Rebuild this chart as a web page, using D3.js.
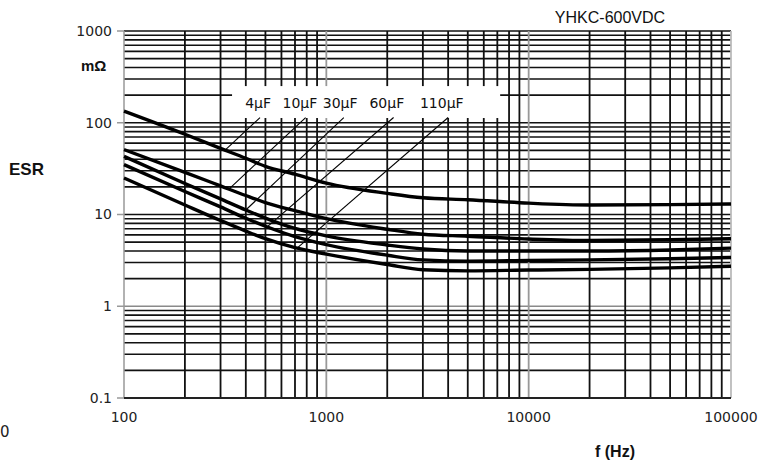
<!DOCTYPE html>
<html><head><meta charset="utf-8">
<script src="https://cdn.jsdelivr.net/npm/d3@7"></script>
<style>body{margin:0;background:#fff}svg{display:block}</style>
</head><body>
<svg id="c" width="774" height="464"></svg>
<script>
// ---- data ----
const freqs = [100,200,300,400,500,700,1000,2000,3000,5000,10000,20000,50000,100000];
const esr4   = [134,75,52.5,41,33.5,27.5,22,17,15.2,14.5,13.3,12.7,12.8,13.0];
const esr10  = [51,28.8,20.5,16.1,13.5,11.0,9.0,6.9,6.1,5.8,5.4,5.2,5.3,5.45];
const esr30  = [43,21.8,14.8,11.2,9.15,7.05,5.85,4.65,4.2,4.0,4.0,4.0,4.1,4.3];
const esr60  = [35,17.8,12.1,9.1,7.45,5.75,4.7,3.6,3.2,3.1,3.15,3.2,3.3,3.4];
const esr110 = [25,12.7,8.6,6.6,5.45,4.35,3.7,2.85,2.5,2.43,2.48,2.52,2.62,2.73];
const seriesNames = ["4µF","10µF","30µF","60µF","110µF"];
const seriesValues = [esr4, esr10, esr30, esr60, esr110];
// label anchor frequencies (centre of each label) and where each leader meets its curve
const labelFreq  = [460, 740, 1170, 1990, 3720];
const leaderFrom = [470, 790, 1220, 2150, 4000];
const leaderTo   = [316, 330, 400, 510, 717];
const labelValue = 145, leaderTopValue = 114;
const legendBox = {f0: 342, f1: 7230, v0: 112.6, v1: 251};
const xTickVals = [100, 1000, 10000, 100000];
const xTickText = ["100", "1000", "10000", "100000"];
const yTickVals = [0.1, 1, 10, 100, 1000];
const yTickText = ["0.1", "1", "10", "100", "1000"];

// ---- scales ----
const x = d3.scaleLog().domain([100, 100000]).range([124, 731]);
const y = d3.scaleLog().domain([0.1, 1000]).range([398, 31]);
const svg = d3.select("#c");

// minor values
const xGrid = [], yGrid = [];
for (let d = 100; d < 100000; d *= 10) for (let m = 1; m <= 9; m++) xGrid.push(d * m);
xGrid.push(100000);
for (let d = 0.1; d < 999; d *= 10) for (let m = 1; m <= 9; m++) yGrid.push(+(d * m).toPrecision(3));
yGrid.push(1000);

const isDecade = v => Math.abs(Math.log10(v) - Math.round(Math.log10(v))) < 1e-6;

// horizontal grid
svg.append("g").selectAll("line").data(yGrid).join("line")
  .attr("x1", x(100)).attr("x2", x(100000))
  .attr("y1", d => y(d)).attr("y2", d => y(d))
  .attr("stroke", d => (d === 1 ? "#8a8a8a" : "#111"))
  .attr("stroke-width", 1.6);

// vertical grid
svg.append("g").selectAll("line").data(xGrid).join("line")
  .attr("x1", d => x(d)).attr("x2", d => x(d))
  .attr("y1", y(1000)).attr("y2", y(0.1))
  .attr("stroke", d => (isDecade(d) ? (d === 100000 ? "#bbb" : "#999") : "#111"))
  .attr("stroke-width", d => (d === 100 ? 1.5 : 1.8));

// bottom axis line
svg.append("line").attr("x1", x(100)).attr("x2", x(100000))
  .attr("y1", y(0.1)).attr("y2", y(0.1)).attr("stroke", "#222").attr("stroke-width", 1.8);

// y ticks
svg.append("g").selectAll("line").data(yTickVals).join("line")
  .attr("x1", x(100) - 7).attr("x2", x(100))
  .attr("y1", d => y(d)).attr("y2", d => y(d))
  .attr("stroke", "#999").attr("stroke-width", 1.5);

svg.append("g").selectAll("text").data(yTickVals).join("text")
  .attr("x", x(100) - 12).attr("y", d => y(d)).attr("dy", "0.35em")
  .attr("text-anchor", "end")
  .attr("font-family", "DejaVu Sans").attr("font-size", 14).attr("fill", "#222")
  .text((d, i) => yTickText[i]);

svg.append("g").selectAll("text").data(xTickVals).join("text")
  .attr("x", d => x(d)).attr("y", 422)
  .attr("text-anchor", "middle")
  .attr("font-family", "DejaVu Sans").attr("font-size", 14).attr("fill", "#222")
  .text((d, i) => xTickText[i]);

// legend white box
svg.append("rect")
  .attr("x", x(legendBox.f0)).attr("y", y(legendBox.v1))
  .attr("width", x(legendBox.f1) - x(legendBox.f0))
  .attr("height", y(legendBox.v0) - y(legendBox.v1))
  .attr("fill", "#fff");

// curves
const line = d3.line().x(d => x(d[0])).y(d => y(d[1])).curve(d3.curveMonotoneX);
svg.append("g").selectAll("path").data(seriesValues).join("path")
  .attr("d", vals => line(freqs.map((f, i) => [f, vals[i]])))
  .attr("fill", "none").attr("stroke", "#000").attr("stroke-width", 3.4)
  .attr("stroke-linejoin", "round");

// interpolate value on a series (log-log)
function valueAt(vals, f) {
  const lf = Math.log10(f);
  for (let i = 0; i < freqs.length - 1; i++) {
    const a = Math.log10(freqs[i]), b = Math.log10(freqs[i + 1]);
    if (lf >= a && lf <= b) {
      const t = (lf - a) / (b - a);
      return Math.pow(10, Math.log10(vals[i]) + t * (Math.log10(vals[i + 1]) - Math.log10(vals[i])));
    }
  }
  return vals[vals.length - 1];
}

// leader lines
svg.append("g").selectAll("line").data(seriesValues).join("line")
  .attr("x1", (v, i) => x(leaderFrom[i])).attr("y1", y(leaderTopValue))
  .attr("x2", (v, i) => x(leaderTo[i])).attr("y2", (v, i) => y(valueAt(v, leaderTo[i])))
  .attr("stroke", "#000").attr("stroke-width", 1.1);

// labels
svg.append("g").selectAll("text").data(seriesNames).join("text")
  .attr("x", (d, i) => x(labelFreq[i])).attr("y", y(labelValue))
  .attr("text-anchor", "middle")
  .attr("font-family", "DejaVu Sans").attr("font-size", 14).attr("fill", "#111")
  .text(d => d);

// titles
svg.append("text").attr("x", 610).attr("y", 23).attr("text-anchor", "middle")
  .attr("font-family", "Liberation Sans").attr("font-size", 16).attr("fill", "#111")
  .text("YHKC-600VDC");
svg.append("text").attr("x", 81).attr("y", 71)
  .attr("font-family", "Liberation Sans").attr("font-weight", "bold").attr("font-size", 15).attr("fill", "#111")
  .text("mΩ");
svg.append("text").attr("x", 9).attr("y", 175)
  .attr("font-family", "Liberation Sans").attr("font-weight", "bold").attr("font-size", 17).attr("fill", "#111")
  .text("ESR");
svg.append("text").attr("x", 615).attr("y", 457).attr("text-anchor", "middle")
  .attr("font-family", "Liberation Sans").attr("font-weight", "bold").attr("font-size", 16).attr("fill", "#111")
  .text("f (Hz)");
svg.append("text").attr("x", 0).attr("y", 437).attr("text-anchor", "start")
  .attr("font-family", "DejaVu Sans").attr("font-size", 15).attr("fill", "#222")
  .text("0");
</script>
</body></html>
